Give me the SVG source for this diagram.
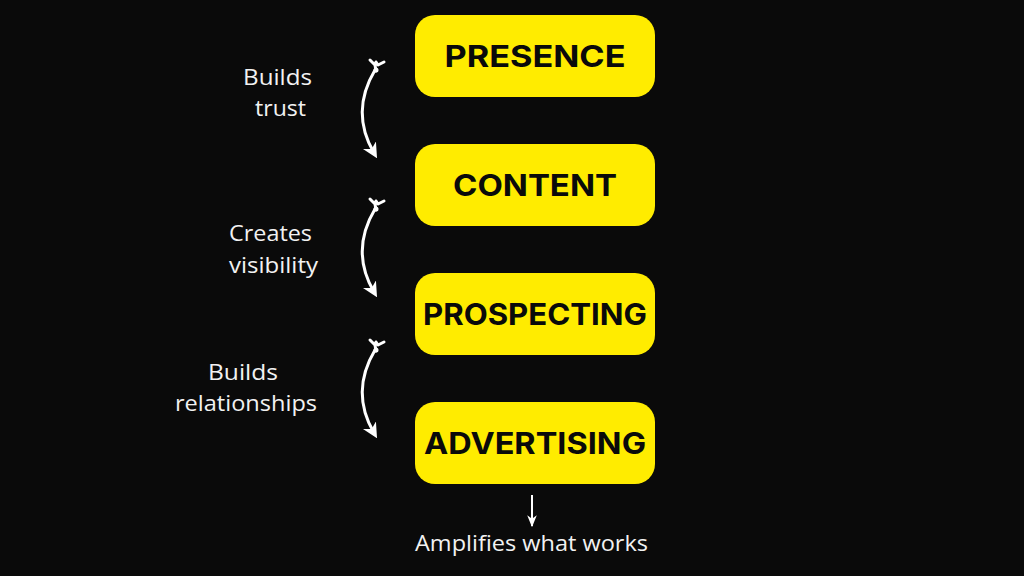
<svg xmlns="http://www.w3.org/2000/svg" width="1024" height="576" viewBox="0 0 1024 576">
<style>
.box{fill:#ffec00;}
.lbl{font-family:Inter,"Noto Sans",sans-serif;font-weight:700;font-size:30px;fill:#0a0a0a;text-anchor:middle;}
.note{font-family:"Open Sans","Noto Sans",sans-serif;font-size:21px;fill:#f2f2f2;text-anchor:middle;}
.arc{fill:none;stroke:#fff;stroke-width:3;stroke-linecap:round;}
</style>
<defs>
<marker id="ah" viewBox="0 0 10 10" refX="6" refY="5" markerWidth="5" markerHeight="5" orient="auto">
<path d="M0,0 L10,5 L0,10 L3,5 Z" fill="#fff"/>
</marker>
<marker id="sh" viewBox="0 0 10 10" refX="9" refY="5" markerWidth="6" markerHeight="6" orient="auto">
<path d="M0,1 L10,5 L0,9 L3,5 Z" fill="#fff"/>
</marker>
<g id="tail">
<path d="M-6,-8 L-1,-3 L0,-6 L2,-3 L8,-6 M-1,-3 L0,3" fill="none" stroke="#fff" stroke-width="3" stroke-linecap="round" stroke-linejoin="round"/>
<circle cx="0" cy="2" r="2.5" fill="#fff"/>
</g>
</defs>
<rect width="1024" height="576" fill="#0a0a0a"/>
<g id="presence"><rect class="box" x="415" y="15" width="240" height="82" rx="20"/><text class="lbl" x="535" y="67" textLength="181" lengthAdjust="spacingAndGlyphs">PRESENCE</text></g>
<g id="content"><rect class="box" x="415" y="144" width="240" height="82" rx="20"/><text class="lbl" x="535" y="196" textLength="164" lengthAdjust="spacingAndGlyphs">CONTENT</text></g>
<g id="prospecting"><rect class="box" x="415" y="273" width="240" height="82" rx="20"/><text class="lbl" x="535" y="325" textLength="224" lengthAdjust="spacingAndGlyphs">PROSPECTING</text></g>
<g id="advertising"><rect class="box" x="415" y="402" width="240" height="82" rx="20"/><text class="lbl" x="535" y="454" textLength="222" lengthAdjust="spacingAndGlyphs">ADVERTISING</text></g>
<g id="connectors">
<path class="arc" d="M375,70 Q350,112 374,153" marker-end="url(#ah)"/>
<use href="#tail" x="376" y="68"/>
<path class="arc" d="M375,209 Q350,251 374,292" marker-end="url(#ah)"/>
<use href="#tail" x="376" y="207"/>
<path class="arc" d="M375,350 Q350,392 374,433" marker-end="url(#ah)"/>
<use href="#tail" x="376" y="348"/>
<line x1="532" y1="495" x2="532" y2="526" stroke="#fff" stroke-width="2" marker-end="url(#sh)"/>
</g>
<g id="notes">
<text class="note" x="277.5" y="85" textLength="69" lengthAdjust="spacingAndGlyphs">Builds</text>
<text class="note" x="280.5" y="116" textLength="51" lengthAdjust="spacingAndGlyphs">trust</text>
<text class="note" x="270.5" y="241" textLength="83" lengthAdjust="spacingAndGlyphs">Creates</text>
<text class="note" x="273.5" y="273" textLength="89" lengthAdjust="spacingAndGlyphs">visibility</text>
<text class="note" x="243" y="380" textLength="70" lengthAdjust="spacingAndGlyphs">Builds</text>
<text class="note" x="246" y="411" textLength="142" lengthAdjust="spacingAndGlyphs">relationships</text>
<text class="note" x="531.5" y="551" textLength="233" lengthAdjust="spacingAndGlyphs">Amplifies what works</text>
</g>
</svg>
